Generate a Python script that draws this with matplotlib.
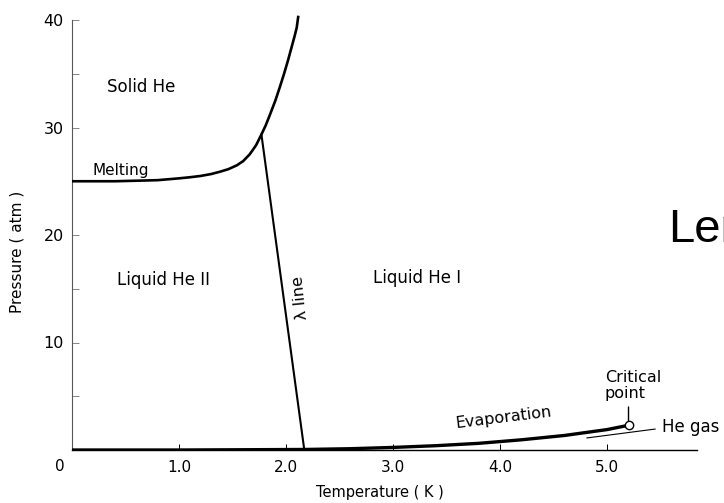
#%%### Imports
import numpy as np
import matplotlib as mpl
mpl.use('Agg')
import matplotlib.pyplot as plt

#%%### Data
## Melting curve (solid / liquid boundary)
melt_T = [0.0, 0.4, 0.8, 1.0, 1.1, 1.2, 1.3, 1.38, 1.46, 1.54, 1.6, 1.66, 1.72, 1.77,
          1.81, 1.85, 1.9, 1.94, 1.98, 2.02, 2.05, 2.08, 2.1, 2.115]
melt_P = [25.0, 25.0, 25.1, 25.27, 25.37, 25.49, 25.67, 25.88, 26.12, 26.48, 26.88, 27.5, 28.35, 29.35,
          30.2, 31.2, 32.5, 33.7, 34.95, 36.3, 37.4, 38.5, 39.3, 40.4]
## Lambda line (He I / He II boundary)
lambda_T = [1.77, 2.17]
lambda_P = [29.35, 0.05]
## Evaporation (vapour pressure) curve up to the critical point
evap_T = [0.0, 1.0, 1.5, 2.17, 2.6, 3.0, 3.4, 3.8, 4.2, 4.6, 5.0, 5.2]
evap_P = [0.0, 0.0, 0.02, 0.05, 0.12, 0.24, 0.4, 0.62, 0.95, 1.35, 1.9, 2.3]
## Critical point
crit_T = 5.2
crit_P = 2.3

xticks = [0, 1, 2, 3, 4, 5]
xticklabels = ['', '1.0', '2.0', '3.0', '4.0', '5.0']
yticks = [10, 20, 30, 40]
yticks_minor = [5, 15, 25, 35]

#%%### Plot
plt.rcParams['font.family'] = ['DejaVu Sans']
W, H = 724, 503
f = plt.figure(figsize=(W/100, H/100), dpi=100)
ax = f.add_axes([72/W, 53/H, 625/W, 440.75/H])
ax.set_xlim(0, 5.84)
ax.set_ylim(0, 41)

### Phase boundaries
ax.plot(melt_T, melt_P, color='k', lw=1.9, solid_capstyle='butt', solid_joinstyle='round', zorder=3)
ax.plot(lambda_T, lambda_P, color='k', lw=1.5, zorder=3)
ax.plot(evap_T, evap_P, color='k', lw=2.4, solid_capstyle='butt', zorder=3)
ax.plot([crit_T], [crit_P], 'o', ms=6, mfc='w', mec='k', mew=1, zorder=4)

### Region labels
ax.text(0.65, 33.8, 'Solid He', ha='center', va='center', fontsize=12)
ax.text(0.19, 25.6, 'Melting', ha='left', va='baseline', fontsize=11)
ax.text(0.42, 15.8, 'Liquid He II', ha='left', va='center', fontsize=12)
ax.text(2.81, 16.0, 'Liquid He I', ha='left', va='center', fontsize=12)
ax.text(2.13, 14.2, 'λ line', ha='center', va='center', fontsize=11.5, rotation=96)
ax.text(4.03, 3.0, 'Evaporation', ha='center', va='center', fontsize=11.5, rotation=7)
ax.text(4.98, 6.0, 'Critical\npoint', ha='left', va='center', fontsize=11.5, linespacing=1.1)
ax.annotate(
    '', xy=(crit_T, crit_P), xytext=(crit_T, 4.0),
    arrowprops=dict(arrowstyle='-', color='k', lw=1, shrinkA=0, shrinkB=3),
)
ax.text(5.51, 2.1, 'He gas', ha='left', va='center', fontsize=12, clip_on=False)
ax.annotate(
    '', xy=(4.81, 1.12), xytext=(5.45, 1.95),
    arrowprops=dict(arrowstyle='-', color='k', lw=0.8, shrinkA=0, shrinkB=0),
    annotation_clip=False,
)

### Axes styling
for side in ['top', 'right']:
    ax.spines[side].set_visible(False)
ax.spines['left'].set_bounds(0, 40)
ax.spines['left'].set_color('0.35')
ax.spines['left'].set_linewidth(0.8)
ax.spines['bottom'].set_linewidth(1.0)

ax.set_xticks(xticks)
ax.set_xticklabels(xticklabels)
ax.set_yticks(yticks)
ax.set_yticks(yticks_minor, minor=True)
ax.tick_params(axis='x', direction='in', length=4, width=0.7, pad=7, labelsize=11)
ax.tick_params(axis='y', which='major', direction='in', length=5, width=0.6,
               color='0.45', pad=6, labelsize=11.5)
ax.tick_params(axis='y', which='minor', direction='in', length=5, width=0.6, color='0.45')
ax.text(-0.11, -1.5, '0', ha='center', va='center', fontsize=11, clip_on=False)

f.text(17/W, 1 - 252/H, 'Pressure ( atm )', rotation=90, ha='center', va='center', fontsize=11)
f.text(380/W, 1 - 492/H, 'Temperature ( K )', ha='center', va='center', fontsize=10.5)

## Slide title, running off the right edge
f.text(668/W, 1 - 242/H, 'Len', ha='left', va='baseline', fontsize=34,
       family='Liberation Sans')

plt.savefig('out.png', dpi=100)
